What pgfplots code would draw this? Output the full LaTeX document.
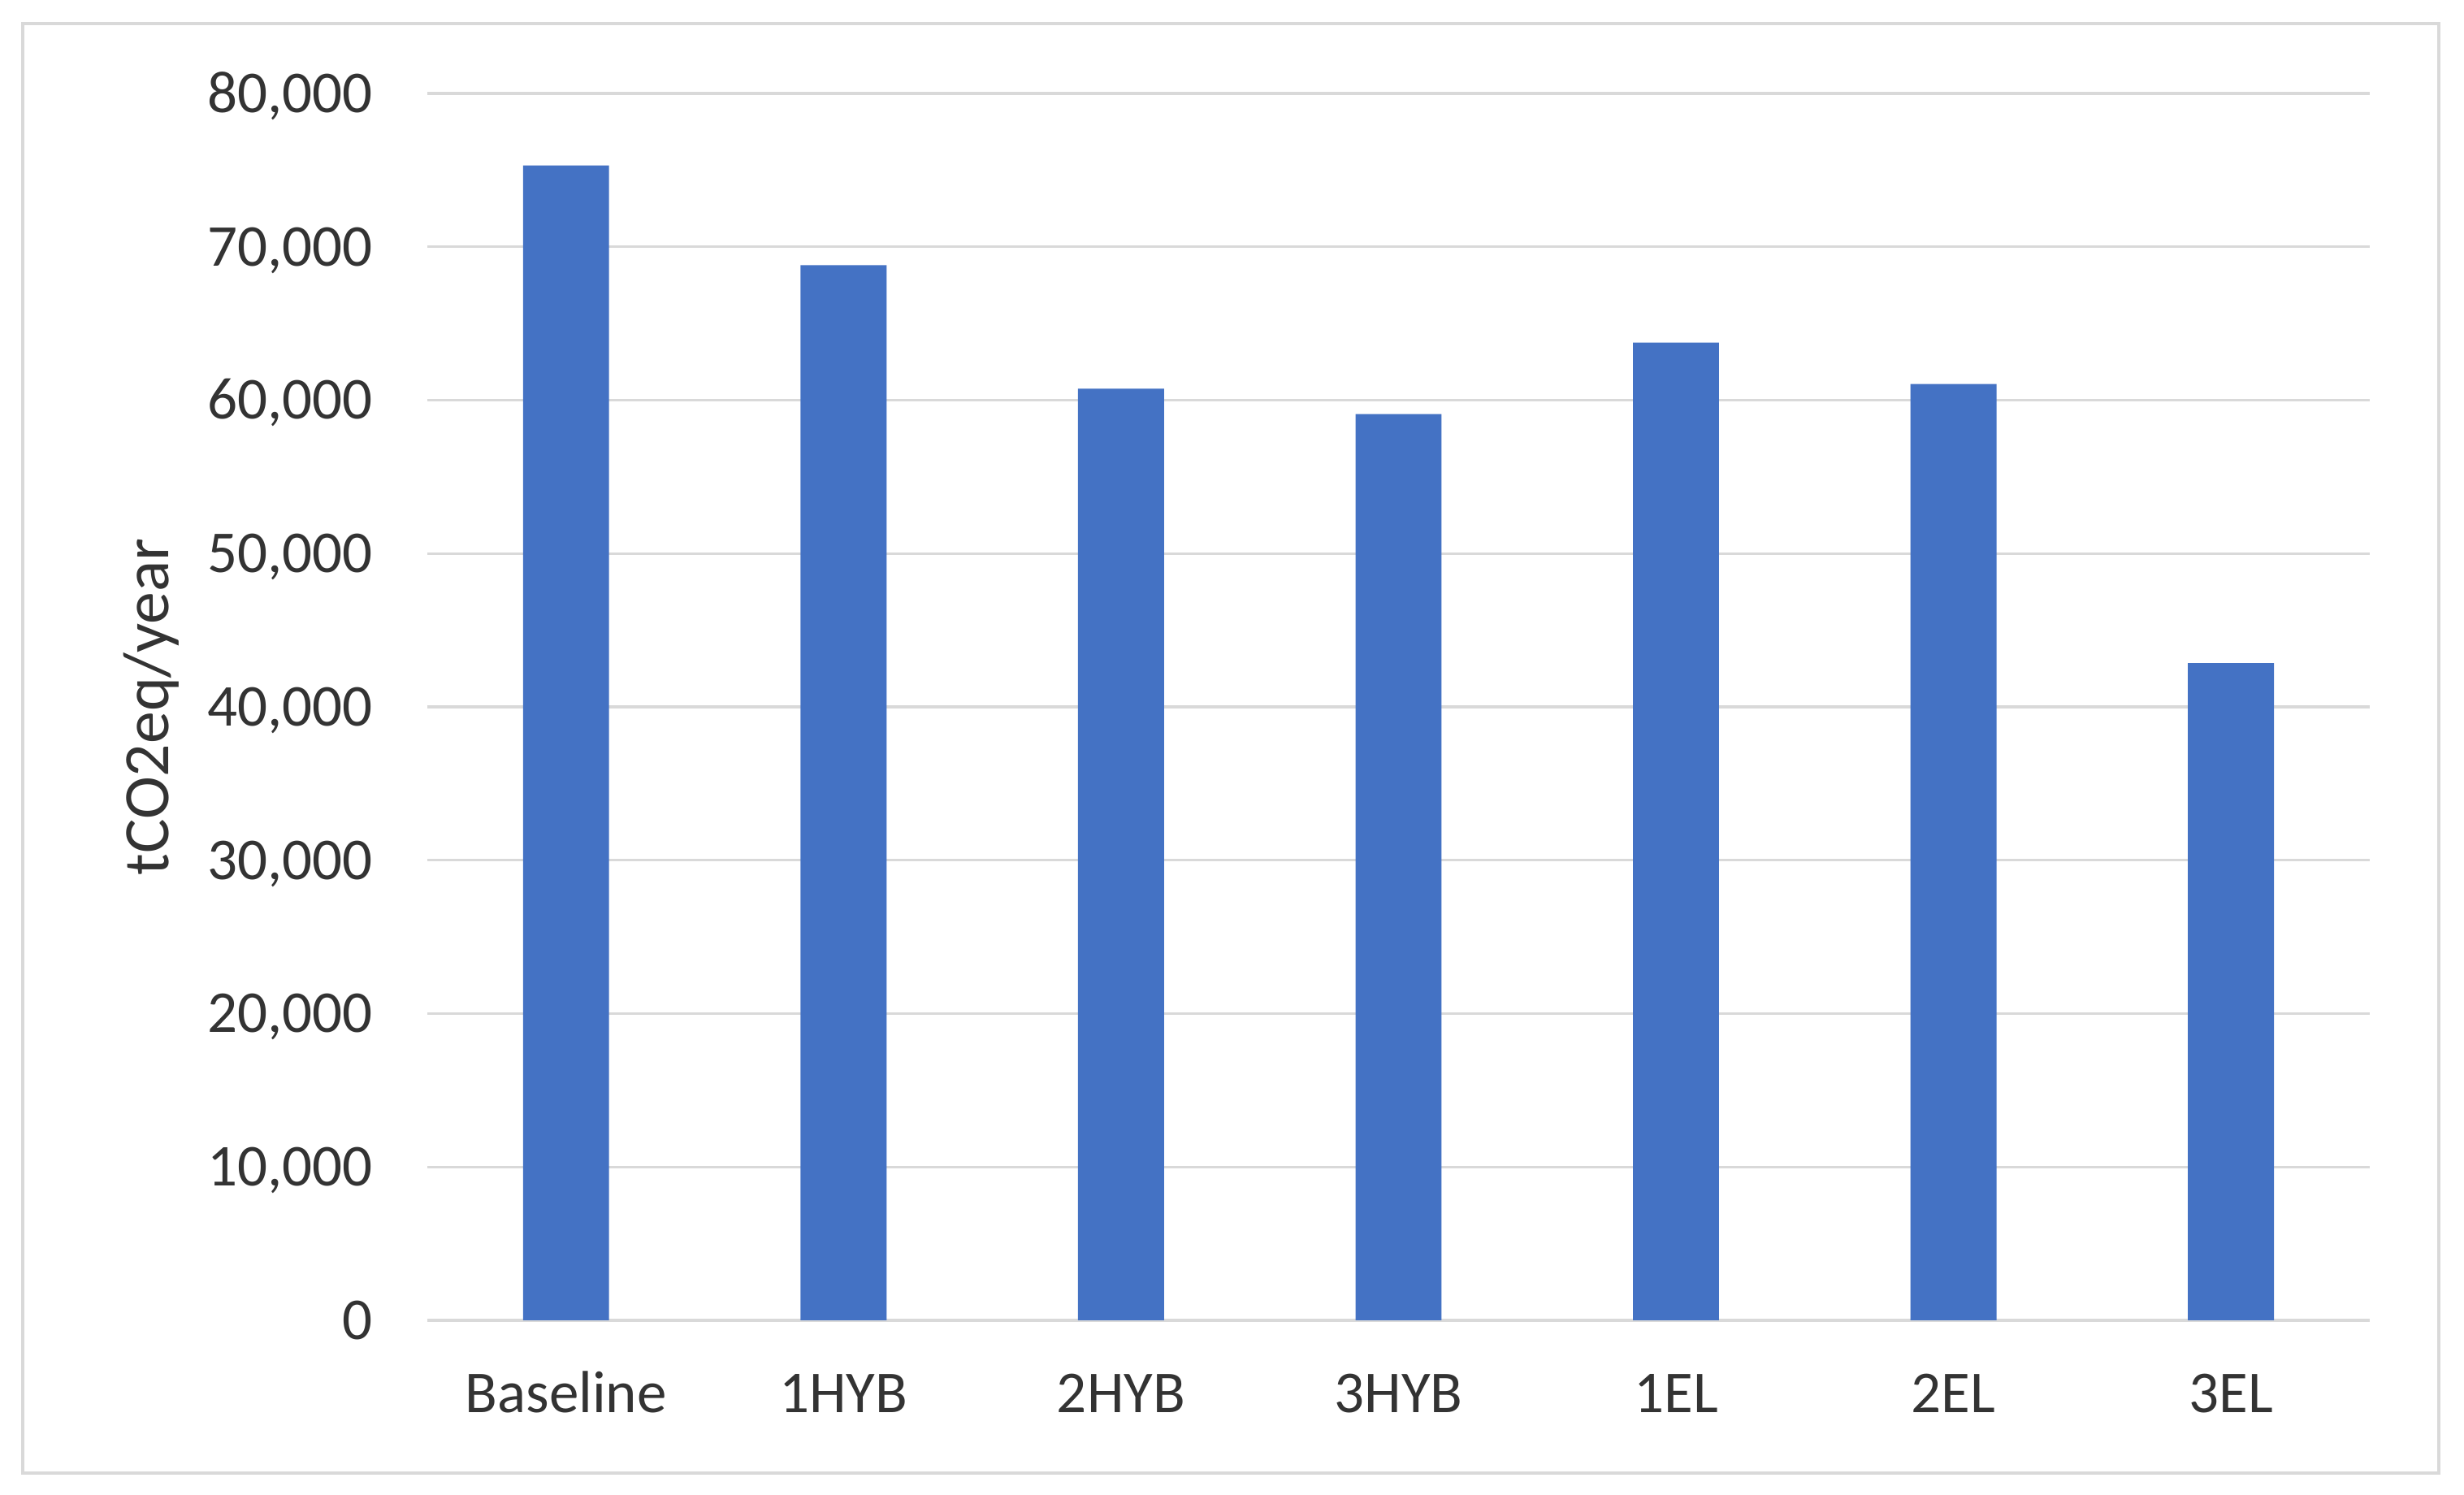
\documentclass[border=0pt]{standalone}
\usepackage{pgfplots}
\pgfplotsset{compat=1.18}
\usepackage{fontspec}
\setmainfont{Carlito}
\definecolor{barblue}{HTML}{4472C4}
\definecolor{gridgray}{HTML}{D9D9D9}

\begin{document}
\begin{tikzpicture}
    % picture frame (1 px of the reference = 0.15bp)
    \useasboundingbox (-78.9bp,-32.25bp) rectangle (376.05bp,243.75bp);
    \fill[white] (-78.9bp,-32.25bp) rectangle (376.05bp,243.75bp);
    \draw[gridgray, line width=0.6bp] (-74.7bp,-28.2bp) rectangle (371.4bp,239.4bp);

    \begin{axis}[
            at={(0,0)}, anchor=south west,
            width=358.65bp, height=226.5bp,
            scale only axis,
            xmin=-0.5, xmax=6.5,
            ymin=0, ymax=80000,
            xtick=data,
            xticklabels={Baseline,1HYB,2HYB,3HYB,1EL,2EL,3EL},
            ytick={0,10000,...,80000},
            scaled y ticks=false,
            /pgf/number format/.cd, 1000 sep={,}, assume math mode=true, /pgfplots/.cd,
            major tick length=0pt,
            axis line style={draw=none},
            ymajorgrids,
            grid style={gridgray, line width=0.5bp},
            tick label style={font=\fontsize{11}{13}\selectfont, text=black!80, inner sep=0pt},
            yticklabel style={anchor=base east, xshift=-9.9bp, yshift=-3.5bp},
            xticklabel style={anchor=base, yshift=-17bp},
            ylabel={tCO2eq/year},
            every axis y label/.style={at={(rel axis cs:-0.1419,0.5)}, rotate=90, anchor=center,
                font=\fontsize{12}{14}\selectfont, text=black!80},
        ]
        \addplot[ybar, bar width=0.31, bar shift=0pt, fill=barblue, draw=none]
        coordinates {
            (0,75300)
            (1,68800)
            (2,60750)
            (3,59100)
            (4,63750)
            (5,61050)
            (6,42850)
        };
    \end{axis}
\end{tikzpicture}
\end{document}
